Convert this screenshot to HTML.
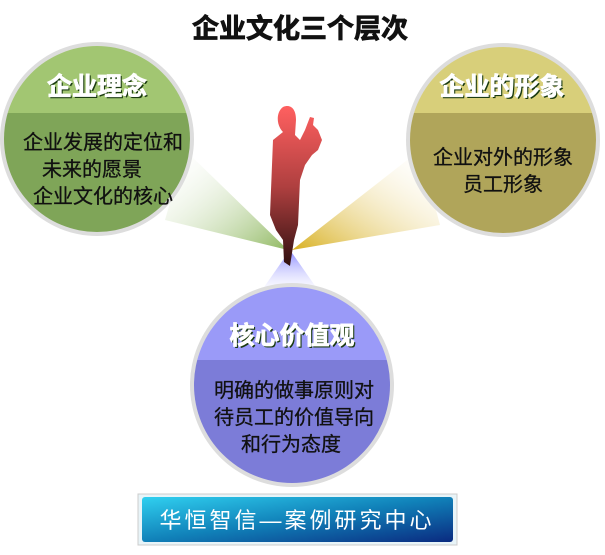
<!DOCTYPE html>
<html><head><meta charset="utf-8"><style>
body{margin:0;background:#fff;width:605px;height:550px;overflow:hidden}
text{font-family:"Liberation Sans","Noto Sans CJK SC",sans-serif}
</style></head><body>
<svg width="605" height="550" viewBox="0 0 605 550">
<defs>
<linearGradient id="rg" x1="1" y1="1" x2="0" y2="0"><stop offset="0" stop-color="#8fb860"/><stop offset="1" stop-color="#fff" stop-opacity="0"/></linearGradient>
<linearGradient id="ry" x1="0" y1="1" x2="1" y2="0"><stop offset="0" stop-color="#d8b020"/><stop offset="1" stop-color="#fff" stop-opacity="0"/></linearGradient>
<linearGradient id="rb" x1="0" y1="0" x2="0" y2="1"><stop offset="0" stop-color="#8888ff"/><stop offset="1" stop-color="#fff" stop-opacity="0"/></linearGradient>
<linearGradient id="fig" x1="0" y1="0" x2="0" y2="1"><stop offset="0" stop-color="#ff6060"/><stop offset="0.5" stop-color="#b04040"/><stop offset="1" stop-color="#301010"/></linearGradient>
<linearGradient id="ban" x1="0" y1="0" x2="1" y2="1"><stop offset="0" stop-color="#30d0f0"/><stop offset="0.5" stop-color="#1080b8"/><stop offset="1" stop-color="#0a2a80"/></linearGradient>
<clipPath id="cl"><circle cx="97" cy="139" r="93"/></clipPath>
<clipPath id="cr"><circle cx="503" cy="140" r="93"/></clipPath>
<clipPath id="cb"><circle cx="292" cy="385" r="98"/></clipPath>
</defs>
<text x="300" y="38" text-anchor="middle" font-size="27" font-weight="bold" fill="#111" stroke="#111" stroke-width="0.8">企业文化三个层次</text>
<polygon points="288,250 165,220 185,150" fill="url(#rg)"/>
<polygon points="292,250 420,150 440,225" fill="url(#ry)"/>
<polygon points="290,250 255,300 325,300" fill="url(#rb)"/>
<circle cx="97" cy="139" r="97" fill="#ddd"/>
<g clip-path="url(#cl)"><rect x="0" y="40" width="200" height="73" fill="#a2c672"/><rect x="0" y="113" width="200" height="130" fill="#7fa558"/></g>
<circle cx="503" cy="140" r="97" fill="#ddd"/>
<g clip-path="url(#cr)"><rect x="405" y="40" width="200" height="73" fill="#d8cf7a"/><rect x="405" y="113" width="200" height="130" fill="#b0a55a"/></g>
<circle cx="292" cy="385" r="102" fill="#ddd"/>
<g clip-path="url(#cb)"><rect x="190" y="280" width="210" height="80" fill="#9a9af8"/><rect x="190" y="360" width="210" height="130" fill="#7c7cd8"/></g>
<g font-weight="bold" font-size="25" text-anchor="middle">
<g fill="#1a3a10" transform="translate(1.5,1.5)">
<text x="97" y="95">企业理念</text>
<text x="502" y="95">企业的形象</text>
<text x="292" y="344">核心价值观</text>
</g>
<g fill="#fff" stroke="#fff" stroke-width="0.8">
<text x="97" y="95">企业理念</text>
<text x="502" y="95">企业的形象</text>
<text x="292" y="344">核心价值观</text>
</g>
</g>
<g font-size="20" fill="#111" stroke="#111" stroke-width="0.3" text-anchor="middle">
<text x="103" y="149">企业发展的定位和</text>
<text x="92" y="176">未来的愿景</text>
<text x="103" y="203">企业文化的核心</text>
<text x="503" y="164">企业对外的形象</text>
<text x="503" y="191">员工形象</text>
<text x="294" y="397">明确的做事原则对</text>
<text x="294" y="424">待员工的价值导向</text>
<text x="291" y="451">和行为态度</text>
</g>
<path d="M283,107 C276,112 276,125 283,132 L273,140 L270,215 L276,230 L283,240 L284,262 L290,266 L294,240 L298,225 L300,180 L305,165 L312,155 L318,150 L322,140 L318,130 L313,125 L314,118 L310,117 L305,130 L300,140 L295,135 L296,120 C296,108 290,104 283,107Z" fill="url(#fig)"/>
<rect x="138" y="494" width="319" height="51" fill="#e8f4f8" stroke="#ccc"/>
<rect x="142" y="497" width="311" height="45" rx="3" fill="url(#ban)"/>
<text x="297" y="528" text-anchor="middle" font-size="22" fill="#fff" font-family="Liberation Serif,'Noto Serif CJK SC',serif" letter-spacing="3">华恒智信—案例研究中心</text>
</svg>
</body></html>
